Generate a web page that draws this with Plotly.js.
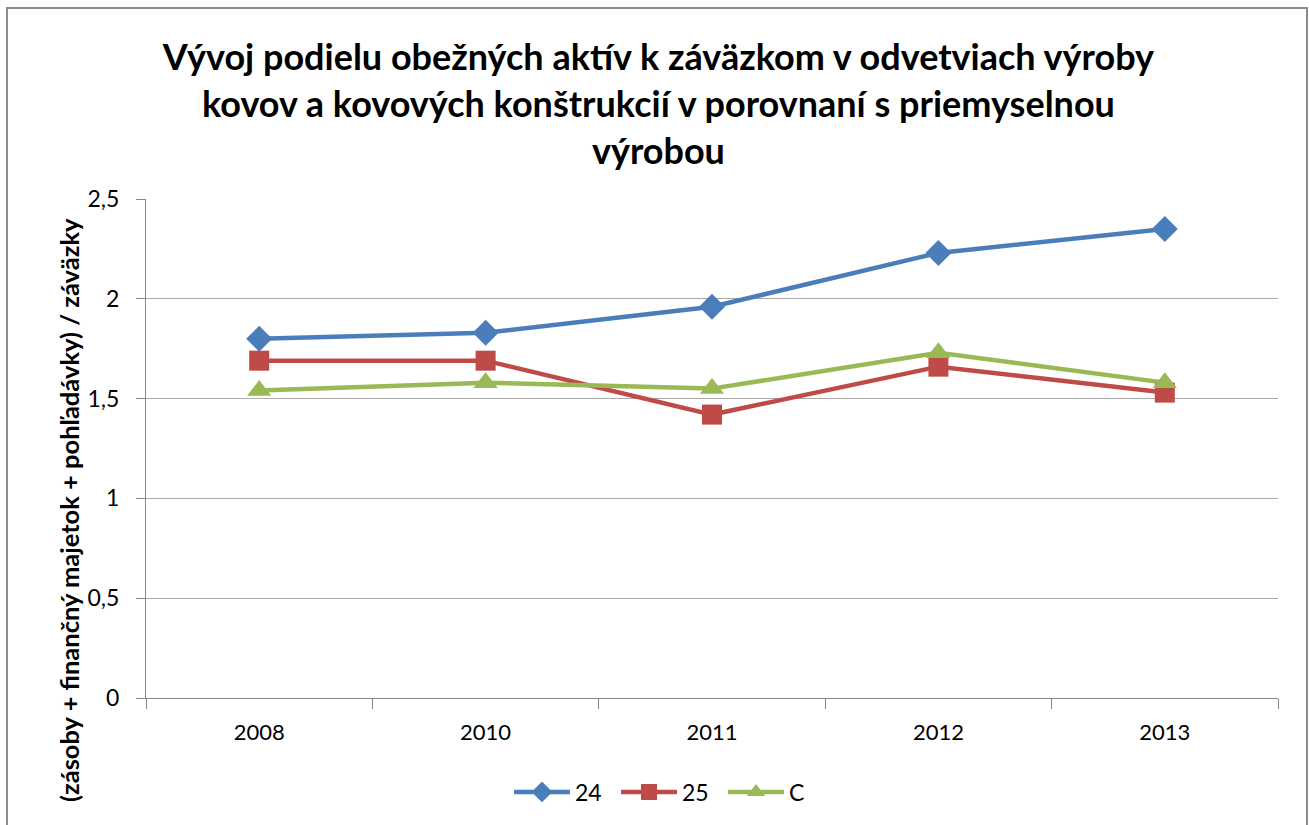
<!DOCTYPE html>
<html>
<head>
<meta charset="utf-8">
<script src="https://cdn.plot.ly/plotly-3.0.1.min.js"></script>
<style>html,body{margin:0;padding:0;background:#fff;}#chart{width:1309px;height:825px;}</style>
</head>
<body>
<div id="chart"></div>
<script>
const years = ["2008", "2010", "2011", "2012", "2013"];
const series24 = [1.80, 1.83, 1.96, 2.23, 2.35];
const series25 = [1.69, 1.69, 1.42, 1.66, 1.53];
const seriesC = [1.54, 1.58, 1.55, 1.73, 1.58];
const seriesNames = ["24", "25", "C"];
const yTitle = "(zásoby + finančný majetok + pohľadávky) / záväzky";

const font = "Lato, 'Open Sans', sans-serif";
const traces = [
  {x: years, y: series24, name: seriesNames[0], type: "scatter", mode: "lines+markers",
   line: {color: "#4A7EBB", width: 4.5}, marker: {symbol: "diamond", size: 20, color: "#4A7EBB"}},
  {x: years, y: series25, name: seriesNames[1], type: "scatter", mode: "lines+markers",
   line: {color: "#BE4B48", width: 4.5}, marker: {symbol: "square", size: 20, color: "#BE4B48"}},
  {x: years, y: seriesC, name: seriesNames[2], type: "scatter", mode: "lines+markers",
   line: {color: "#98B954", width: 4.5}, marker: {symbol: "triangle-up", size: 21, color: "#98B954"}}
];
const layout = {
  width: 1309, height: 825,
  margin: {l: 146, r: 31, t: 199, b: 127},
  paper_bgcolor: "#fff", plot_bgcolor: "#fff",
  separators: ",.",
  font: {family: font, color: "#000", size: 22},
  title: {
    text: "<b>Vývoj podielu obežných aktív k záväzkom v odvetviach výroby<br>kovov a kovových konštrukcií v porovnaní s priemyselnou<br>výrobou</b>",
    font: {family: font, size: 36, color: "#000"},
    x: 0.503, xanchor: "center", xref: "container",
    y: 0.915, yanchor: "top", yref: "container"
  },
  xaxis: {
    type: "category", range: [-0.5, 4.5],
    showgrid: false, showline: true, linecolor: "#878787", linewidth: 1,
    ticks: "outside", tickson: "boundaries", ticklen: 10, tickcolor: "#878787",
    ticklabelstandoff: 15,
    tickfont: {family: font, size: 22, color: "#000"}, zeroline: false
  },
  yaxis: {
    range: [0, 2.5], dtick: 0.5, tick0: 0,
    showgrid: true, gridcolor: "#AAAAAA", gridwidth: 1,
    showline: true, linecolor: "#878787", linewidth: 1,
    ticks: "outside", ticklen: 9, tickcolor: "#878787",
    ticklabelstandoff: 12,
    tickfont: {family: font, size: 23, color: "#000"}, zeroline: false
  },
  annotations: [{
    text: "<b>" + yTitle + "</b>", textangle: -90, showarrow: false,
    xref: "paper", yref: "paper", x: (69 - 146) / 1132, y: (698 - 510) / 499,
    xanchor: "center", yanchor: "middle",
    font: {family: font, size: 25.5, color: "#000"}
  }],
  legend: {
    orientation: "h", x: (509 - 146) / 1132, xanchor: "left", y: (698 - 792) / 499, yanchor: "middle",
    font: {family: font, size: 23, color: "#000"}, tracegroupgap: 0,
    itemwidth: 56, entrywidth: 36, entrywidthmode: "pixels"
  },
  shapes: [{
    type: "rect", xref: "paper", yref: "paper",
    x0: (7 - 146) / 1132, x1: (1307 - 146) / 1132,
    y0: (698 - 840) / 499, y1: (698 - 8) / 499,
    line: {color: "#8C8C8C", width: 2}, fillcolor: "rgba(0,0,0,0)", layer: "below"
  }],
  showlegend: true
};
Plotly.newPlot("chart", traces, layout, {displayModeBar: false, staticPlot: true});
</script>
</body>
</html>
